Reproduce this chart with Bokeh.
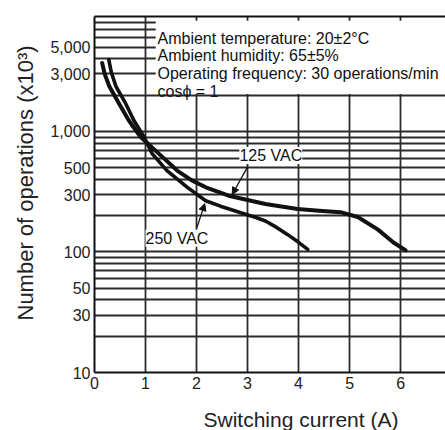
from bokeh.plotting import figure
from bokeh.models import (FixedTicker, NumeralTickFormatter, Label, Arrow, NormalHead,
                          BoxAnnotation, Title, LinearAxis, Range1d)
from bokeh.embed import file_html
from bokeh.resources import INLINE

# ---- data ----
current_125 = [0.15, 0.20, 0.29, 0.48, 0.67, 0.90, 1.26, 1.62, 1.90, 2.18, 2.63, 3.00, 3.35,
               3.98, 4.40, 4.82, 5.16, 5.55, 5.86, 6.10]
ops_125 = [3700, 3000, 2370, 1710, 1240, 903, 655, 474, 395, 344, 293, 270, 250,
           227, 220, 214, 195, 154, 120, 103]

current_250 = [0.28, 0.33, 0.42, 0.61, 0.77, 0.97, 1.13, 1.42, 1.82, 2.18, 2.47, 2.96, 3.15,
               3.35, 3.57, 3.78, 3.98, 4.18]
ops_250 = [3950, 3100, 2370, 1710, 1240, 903, 655, 474, 344, 266, 240, 206, 194,
           181, 160, 140, 122, 105]

y_ticks = [10, 30, 50, 100, 300, 500, 1000, 3000, 5000]
x_ticks = [0, 1, 2, 3, 4, 5, 6]
x_grid = [0, 1, 2, 3, 4, 5, 6, 7]
y_grid = [m * 10 ** k for k in (1, 2, 3) for m in range(1, 10)]

conditions = ["Ambient temperature: 20\u00b12\u00b0C",
              "Ambient humidity: 65\u00b15%",
              "Operating frequency: 30 operations/min",
              "cos\u03d5 = 1"]

FONT = "Liberation Sans"
INK = "#111111"
GRID = "#2b2b2b"

p = figure(width=445, height=430, y_axis_type="log",
           x_range=Range1d(0, 6.88), y_range=Range1d(10, 9000),
           output_backend="svg", toolbar_location=None,
           min_border_left=94, min_border_right=0, min_border_top=16, min_border_bottom=58)
p.outline_line_color = None
p.background_fill_color = "white"
p.border_fill_color = "white"

# grid
p.xgrid.ticker = FixedTicker(ticks=x_grid)
p.ygrid.ticker = FixedTicker(ticks=y_grid)
p.xgrid.grid_line_color = GRID
p.ygrid.grid_line_color = GRID
p.xgrid.grid_line_width = 1.8
p.ygrid.grid_line_width = 1.8

# axes
for ax in (p.xaxis[0], p.yaxis[0]):
    ax.axis_line_color = INK
    ax.axis_line_width = 2
    ax.major_tick_line_color = None
    ax.minor_tick_line_color = None
    ax.major_label_text_font = FONT
    ax.major_label_text_font_size = "16px"
    ax.major_label_text_color = "#222222"
p.xaxis.ticker = FixedTicker(ticks=x_ticks)
p.yaxis.ticker = FixedTicker(ticks=y_ticks)
p.yaxis.formatter = NumeralTickFormatter(format="0,0")
p.xaxis.major_label_standoff = -2
p.yaxis.major_label_standoff = -2

top_axis = LinearAxis(ticker=FixedTicker(ticks=[]), axis_line_color=INK, axis_line_width=2,
                      major_tick_line_color=None, minor_tick_line_color=None,
                      major_label_text_font_size="0px")
p.add_layout(top_axis, "above")

# invisible spacer axis between the tick labels and the x title
spacer = LinearAxis(ticker=FixedTicker(ticks=[3]), axis_line_color=None,
                    major_tick_line_color=None, minor_tick_line_color=None,
                    major_tick_in=0, major_tick_out=14, major_label_standoff=0,
                    major_label_text_font_size="0px", major_label_text_color=None)
p.add_layout(spacer, "below")

# white box behind the conditions text
p.add_layout(BoxAnnotation(left=1.2, bottom=2050, top=8300, fill_color="white",
                           fill_alpha=1.0, line_color=None))

# curves
p.line(current_125, ops_125, line_color=INK, line_width=4, line_cap="round", line_join="round")
p.line(current_250, ops_250, line_color=INK, line_width=3.6, line_cap="round", line_join="round")

# condition texts
for txt, yv in zip(conditions, [5920, 4240, 3000, 2150]):
    p.add_layout(Label(x=1.235, y=yv, text=txt, text_font=FONT, text_font_size="16px",
                       text_color="#111111", text_baseline="alphabetic"))

# curve labels with arrows
p.add_layout(Arrow(end=NormalHead(size=7, fill_color=INK, line_color=INK),
                   x_start=3.0, y_start=509, x_end=2.70, y_end=300,
                   line_color=INK, line_width=1.3))
p.add_layout(Arrow(end=NormalHead(size=7, fill_color=INK, line_color=INK),
                   x_start=2.01, y_start=160, x_end=2.16, y_end=252,
                   line_color=INK, line_width=1.3))
p.add_layout(Label(x=2.84, y=631, text="125 VAC", text_font=FONT, text_font_size="16px",
                   text_color="#111111", text_baseline="middle",
                   background_fill_color="white", background_fill_alpha=1.0))
p.add_layout(Label(x=1.0, y=130, text="250 VAC", text_font=FONT, text_font_size="16px",
                   text_color="#111111", text_baseline="middle",
                   background_fill_color="white", background_fill_alpha=1.0))

# axis titles
p.add_layout(Title(text="Switching current (A)", align="left", offset=109, vertical_align="bottom",
                   text_font=FONT, text_font_size="21px", text_font_style="normal",
                   text_color="#222222", standoff=0), "below")
p.add_layout(Title(text="Number of operations  (x10\u00b3)", align="left", offset=52,
                   text_font=FONT, text_font_size="22px", text_font_style="normal",
                   text_color="#222222", standoff=20), "left")

open("out.html", "w").write(file_html(p, INLINE))
